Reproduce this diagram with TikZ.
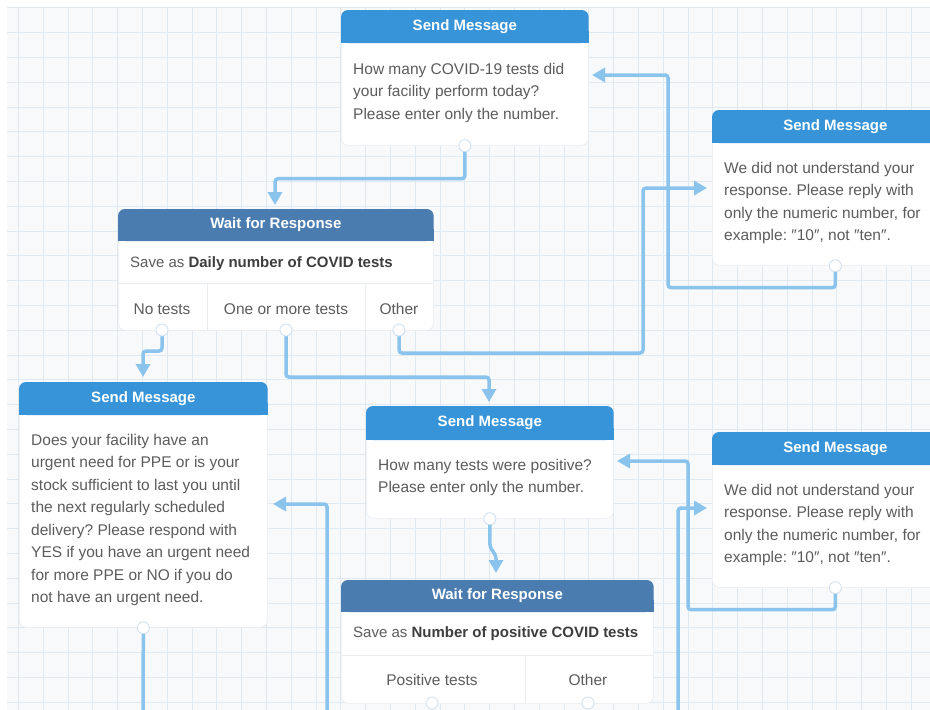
\documentclass[tikz,border=0pt]{standalone}
\usepackage{fontspec}
\setmainfont{Liberation Sans}
\usetikzlibrary{arrows.meta,calc}
\definecolor{sendblue}{RGB}{55,148,217}
\definecolor{waitblue}{RGB}{74,124,176}
\definecolor{wireblue}{RGB}{138,196,236}
\definecolor{gridline}{RGB}{225,233,240}
\definecolor{gridbg}{RGB}{247,249,251}
\definecolor{txt}{RGB}{92,92,92}
\definecolor{txtb}{RGB}{62,62,62}
\definecolor{sepline}{RGB}{234,237,240}
\definecolor{portline}{RGB}{205,222,238}
\newcommand{\mkhead}[4]{%
  \fill[#2, rounded corners=7pt] (#1.north west) rectangle ($(#1.north east)+(0,#4)$);
  \fill[#2] ($(#1.north west)+(0,#4-12)$) rectangle ($(#1.north east)+(0,#4)$);
  \node[hdrtext] (#1-title) at ($(#1.north)+(0,#4/2)$) {#3};}
\newcommand{\qq}{″}
\frenchspacing
\begin{document}
\begin{tikzpicture}[x=1pt,y=-1pt,
  card/.style={draw=sepline, line width=0.7pt, fill=white, rounded corners=7pt, anchor=north west, inner sep=0pt},
  hdrtext/.style={text=white, font=\fontsize{15}{18}\selectfont\bfseries, inner sep=0pt},
  bodytext/.style={text=txt, font=\fontsize{15.5}{22.5}\selectfont, align=left, anchor=north west, inner sep=0pt},
  rowtext/.style={text=txt, font=\fontsize{15.5}{18}\selectfont, inner sep=0pt},
  savetext/.style={text=txt, font=\fontsize{15}{18}\selectfont, inner sep=0pt, anchor=west},
  link/.style={draw=wireblue, line width=3.5pt, rounded corners=3pt},
  arr/.style={link, -{Triangle[length=13pt,width=14pt]}},
  port/.style={circle, fill=white, draw=portline, line width=0.8pt, minimum size=12pt, inner sep=0pt},
  sep/.style={draw=sepline, line width=0.8pt},
]
\useasboundingbox (0,0) rectangle (930,710);
\clip (0,0) rectangle (930,710);
\fill[white] (0,0) rectangle (930,710);
\fill[gridbg] (7,7) rectangle (930,710);
\foreach \i in {0,...,37} {\draw[gridline, line width=0.8pt] ({18.3+24.8*\i},7) -- ({18.3+24.8*\i},710);}
\foreach \j in {0,...,28} {\draw[gridline, line width=0.8pt] (7,{7.8+24.8*\j}) -- (930,{7.8+24.8*\j});}

% ---------- cards ----------
\node[card, minimum width=247pt, minimum height=135pt] (b1) at (341,10) {};
\mkhead{b1}{sendblue}{Send Message}{33}
\node[bodytext] (b1x) at (353,63) {How many COVID-19 tests did\\your facility perform today?\\Please enter only the number.};

\node[card, minimum width=246pt, minimum height=155pt] (r1) at (712,110) {};
\mkhead{r1}{sendblue}{Send Message}{33}
\node[bodytext] (r1x) at (724,162) {We did not understand your\\response. Please reply with\\only the numeric number, for\\example: \qq10\qq, not \qq ten\qq.};

\node[card, minimum width=315pt, minimum height=121pt] (w1) at (118,209) {};
\mkhead{w1}{waitblue}{Wait for Response}{32}
\node[savetext] (w1s) at (130,264) {Save as \textcolor{txtb}{\bfseries Daily number of COVID tests}};
\draw[sep] (118,283) -- (433,283);
\draw[sep] (207,283) -- (207,330);
\draw[sep] (365,283) -- (365,330);
\node[rowtext] (w1l1) at (162,309) {No tests};
\node[rowtext] (w1l2) at (286,309) {One or more tests};
\node[rowtext] (w1l3) at (399,309) {Other};

\node[card, minimum width=248pt, minimum height=245pt] (b2) at (19,382) {};
\mkhead{b2}{sendblue}{Send Message}{33}
\node[bodytext] (b2x) at (31,434) {Does your facility have an\\urgent need for PPE or is your\\stock sufficient to last you until\\the next regularly scheduled\\delivery? Please respond with\\YES if you have an urgent need\\for more PPE or NO if you do\\not have an urgent need.};

\node[card, minimum width=247pt, minimum height=112pt] (b3) at (366,406) {};
\mkhead{b3}{sendblue}{Send Message}{34}
\node[bodytext] (b3x) at (378,459) {How many tests were positive?\\Please enter only the number.};

\node[card, minimum width=246pt, minimum height=155pt] (r2) at (712,432) {};
\mkhead{r2}{sendblue}{Send Message}{33}
\node[bodytext] (r2x) at (724,484) {We did not understand your\\response. Please reply with\\only the numeric number, for\\example: \qq10\qq, not \qq ten\qq.};

\node[card, minimum width=312pt, minimum height=123pt] (w2) at (341,580) {};
\mkhead{w2}{waitblue}{Wait for Response}{32}
\node[savetext] (w2s) at (353,634) {Save as \textcolor{txtb}{\bfseries Number of positive COVID tests}};
\draw[sep] (341,655) -- (653,655);
\draw[sep] (525,655) -- (525,703);
\node[rowtext] (w2l1) at (432,680) {Positive tests};
\node[rowtext] (w2l2) at (588,680) {Other};

% ---------- ports and ends ----------
\coordinate (b1p) at (b1.south);
\coordinate (r1p) at (r1.south);
\coordinate (r2p) at (r2.south);
\coordinate (b2p) at (b2.south);
\coordinate (b3p) at (b3.south);
\coordinate (w1a) at (162,330);
\coordinate (w1b) at (286,330);
\coordinate (w1c) at (399,330);
\coordinate (w2a) at (432,703);
\coordinate (w2b) at (588,703);
\coordinate (w1in) at (275,205);
\coordinate (b1in) at (592,75);
\coordinate (r1in) at (707,188);
\coordinate (b2in) at (143,377);
\coordinate (b3in) at (489,402);
\coordinate (w2in) at (496,573);
\coordinate (b3rin) at (617,461);
\coordinate (r2in) at (707,508);
\coordinate (b2rin) at (273,504);
\coordinate (e1) at (678,715);
\coordinate (e2) at (327,715);
\coordinate (e3) at (143,715);

% ---------- connectors ----------
\draw[arr] (b1p) -- ++(0,33) -| (w1in);
\draw[arr] (r1p) -- ++(0,22) -| (668,75) -- (b1in);
\draw[arr] (w1c) -- ++(0,23) -| (643,188) -- (r1in);
\draw[arr] (w1a) -- ++(0,21) -| (b2in);
\draw[arr] (w1b) -- ++(0,47) -| (b3in);
\draw[arr] (b3p) -- ++(0,28) -- (496,556) -- (w2in);
\draw[arr] (r2p) -- ++(0,22) -| (688,461) -- (b3rin);
\draw[arr] (e1) |- (r2in);
\draw[arr] (e2) |- (b2rin);
\draw[link] (b2p) -- (e3);

\foreach \p in {b1p,r1p,r2p,b2p,b3p,w1a,w1b,w1c,w2a,w2b} {\node[port] (\p-c) at (\p) {};}
\end{tikzpicture}
\end{document}
